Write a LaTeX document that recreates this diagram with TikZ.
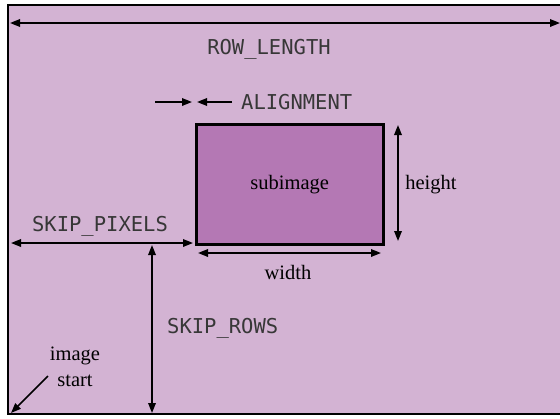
\documentclass[tikz,border=0pt]{standalone}
\usepackage{fontspec}
\setmainfont{Liberation Serif}
\newfontfamily\monofont{DejaVu Sans Mono}
\usetikzlibrary{arrows.meta}
\definecolor{bgpurple}{RGB}{211,179,211}
\definecolor{subpurple}{RGB}{180,120,180}
\definecolor{monogray}{RGB}{55,55,55}
\tikzset{
  dimline/.style={line width=1.7pt, {Triangle[length=10pt,width=7.5pt]}-{Triangle[length=10pt,width=7.5pt]}},
  oneway/.style={line width=1.7pt, -{Triangle[length=10pt,width=7.5pt]}},
  monolabel/.style={font=\monofont\fontsize{20.5}{24}\selectfont, text=monogray, inner sep=0pt},
  seriflabel/.style={font=\fontsize{20.5}{24}\selectfont, text=black, inner sep=0pt},
}
\begin{document}
\begin{tikzpicture}[x=1pt,y=-1pt]
\useasboundingbox (0,0) rectangle (560,418);
\fill[white] (0,0) rectangle (560,418);
\fill[bgpurple] (8,5) rectangle (565,414);
\draw[line width=2.5pt] (565,5) -- (8,5) -- (8,414) -- (565,414);

% subimage
\node[draw, line width=2.5pt, fill=subpurple, minimum width=187pt, minimum height=120pt,
      anchor=north west, inner sep=0pt, seriflabel] (sub) at (195,123) {subimage};

% labels
\node[monolabel] (rowlen) at (269,49) {ROW\_LENGTH};
\node[monolabel, anchor=west] (align) at (241,102) {ALIGNMENT};
\node[monolabel] (skippix) at (100,226) {SKIP\_PIXELS};
\node[monolabel, anchor=west] (skiprows) at (167,328) {SKIP\_ROWS};
\node[seriflabel] (height) at (431,185) {height};
\node[seriflabel] (width) at (288,272) {width};
\node[seriflabel] (imgA) at (75,356) {image};
\node[seriflabel] (imgB) at (75,381) {start};

% coordinates
\coordinate (rlL) at (10,23);
\coordinate (rlR) at (560,23);
\coordinate (a1s) at (155,102);
\coordinate (a1e) at (192,102);
\coordinate (a2s) at (232,102);
\coordinate (a2e) at (197,102);
\coordinate (spL) at (11,243);
\coordinate (spR) at (193,243);
\coordinate (srT) at (152,245);
\coordinate (srB) at (152,413);
\coordinate (hT) at (398,125);
\coordinate (hB) at (398,241);
\coordinate (wL) at (198,253);
\coordinate (wR) at (381,253);
\coordinate (isS) at (48,376);
\coordinate (isE) at (11,413);

% arrows
\draw[dimline] (rlL) -- (rlR);
\draw[oneway] (a1s) -- (a1e);
\draw[oneway] (a2s) -- (a2e);
\draw[dimline] (spL) -- (spR);
\draw[dimline] (srT) -- (srB);
\draw[dimline] (hT) -- (hB);
\draw[dimline] (wL) -- (wR);
\draw[oneway] (isS) -- (isE);
\end{tikzpicture}
\end{document}
